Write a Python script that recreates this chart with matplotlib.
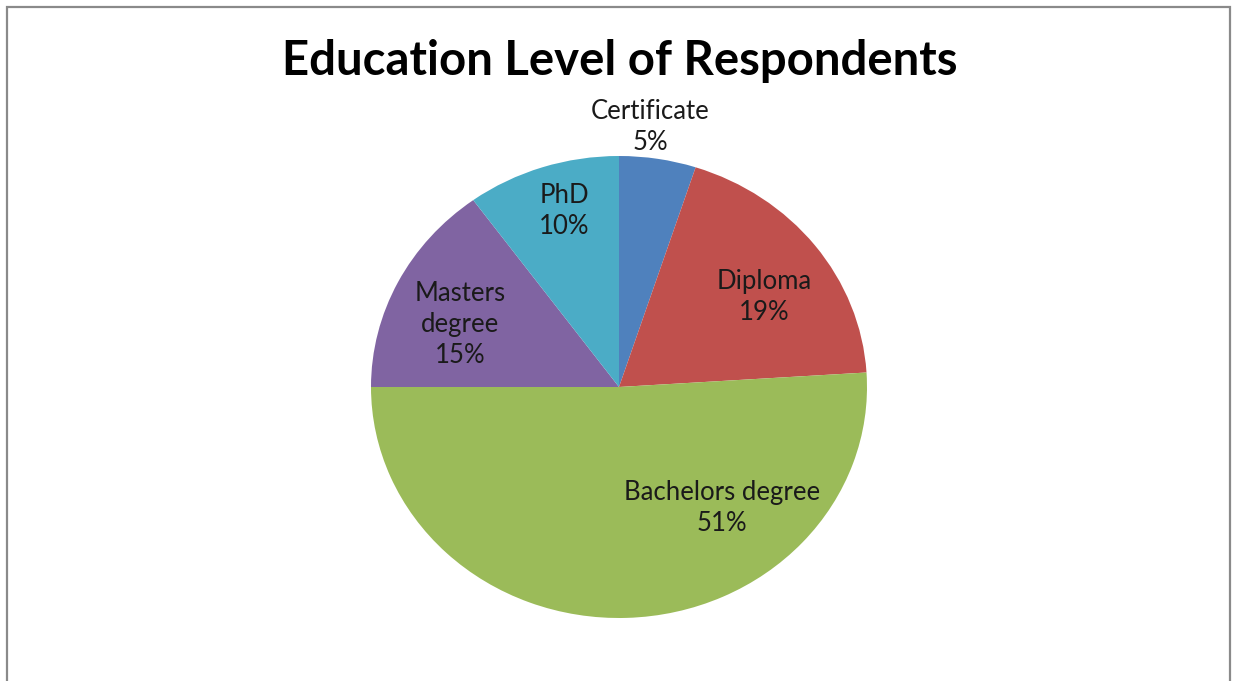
import matplotlib
matplotlib.use("Agg")
import matplotlib.pyplot as plt
from matplotlib.patches import Rectangle

# education level shares, clockwise from 12 o'clock
categories = ["Certificate", "Diploma", "Bachelors degree", "Masters degree", "PhD"]
shares = [5, 19, 51, 15, 10]
label_text = ["Certificate", "Diploma", "Bachelors degree", "Masters\ndegree", "PhD"]
colors = ["#4F81BD", "#C0504D", "#9BBB59", "#8064A2", "#4BACC6"]

# where each data label sits, in pie units
label_pos = [(0.125, 1.125), (0.585, 0.39), (0.415, -0.524), (-0.64, 0.27), (-0.22, 0.76)]

plt.rcParams['font.family'] = ['Lato', 'DejaVu Sans']

W, H = 1236, 681
fig = plt.figure(figsize=(W / 100, H / 100), dpi=100)

# pie box: stretched horizontally like the source sheet
ax = fig.add_axes([371 / W, (H - 618) / H, 496 / W, 462 / H])
ax.pie(shares, colors=colors, startangle=90, counterclock=False,
       wedgeprops=dict(linewidth=0))
ax.set_aspect('auto')
ax.set_xlim(-1, 1)
ax.set_ylim(-1, 1)
ax.axis('off')

for txt, val, (x, y) in zip(label_text, shares, label_pos):
    ax.text(x, y, f"{txt}\n{val}%", ha='center', va='center', fontsize=18.5,
            color='#1a1a1a', linespacing=1.3, clip_on=False)

fig.text(620 / W, 1 - 61 / H, "Education Level of Respondents", ha='center', va='center',
         fontsize=34, fontweight='bold', color='black')

# chart area border (bottom edge runs off the sheet)
fig.patches.append(Rectangle((7 / W, -0.1), (1230 - 7) / W, 1.1 - 7 / H,
                             transform=fig.transFigure, fill=False,
                             edgecolor='#8a8a8a', linewidth=1.6))

fig.savefig("out.png", dpi=100, facecolor='white')
